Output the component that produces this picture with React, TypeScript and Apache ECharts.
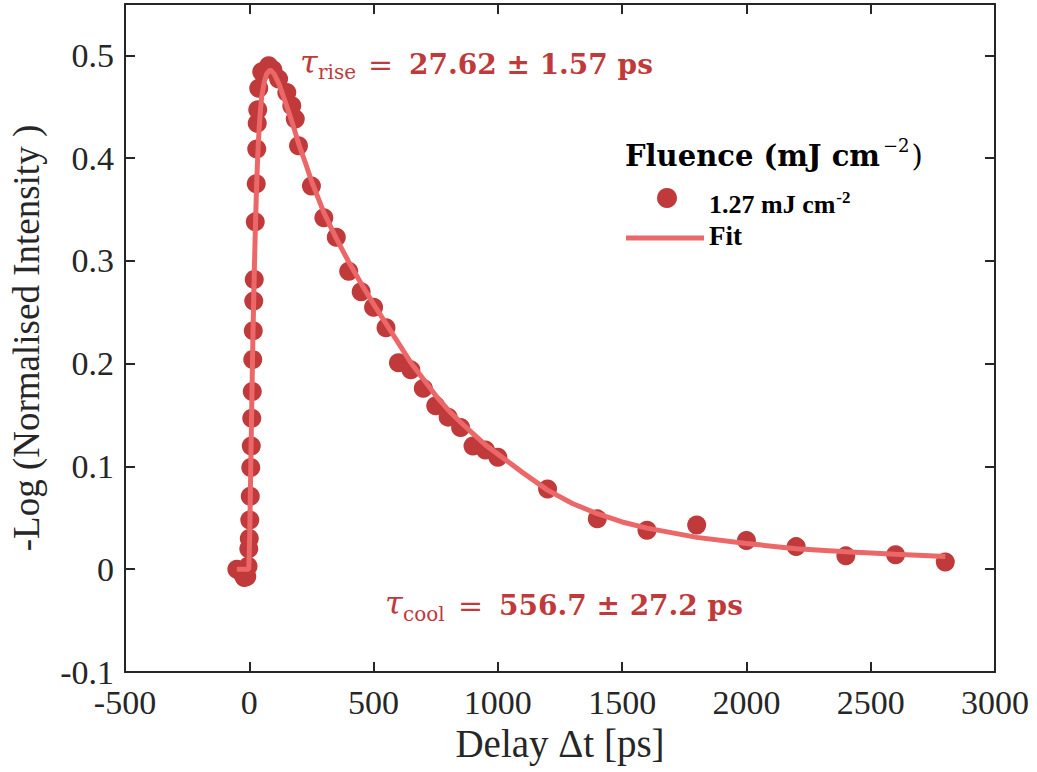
import React, { useEffect, useRef } from "react";
import * as echarts from "echarts";

// Measured data (delay in ps, -log normalised intensity)
const delays = [
  -50, -30, -20, -10, -5, -2, 0, 2, 4, 6, 8, 10, 12, 14, 16, 18, 20, 24, 28, 30, 32, 34, 38, 50, 78, 95,
  118, 151, 171, 185, 198, 250, 300, 350, 400, 450, 500, 550, 600, 650, 700, 750, 800, 850, 900, 950, 1000,
  1200, 1400, 1600, 1800, 2000, 2200, 2400, 2600, 2800,
];
const signal = [
  0.0, -0.004, -0.008, -0.007, 0.003, 0.02, 0.03, 0.048, 0.071, 0.099, 0.12, 0.147, 0.173, 0.204, 0.232,
  0.261, 0.282, 0.338, 0.375, 0.409, 0.434, 0.447, 0.468, 0.484, 0.49, 0.486,
  0.477, 0.464, 0.451, 0.438, 0.412, 0.373, 0.342, 0.323, 0.29, 0.27, 0.255, 0.235, 0.201, 0.194, 0.176,
  0.159, 0.148, 0.138, 0.12, 0.116, 0.109,
  0.078, 0.049, 0.038, 0.043, 0.028, 0.022, 0.013, 0.014, 0.007,
];

// Fit curve
const fitDelays = [
  -50, -2, 0, 2, 4, 6, 8, 10, 12, 15, 18, 21, 24, 28, 32, 36, 40, 45, 50, 60, 70, 84, 100, 120, 140, 160,
  180, 200, 225, 250, 300, 350, 400, 450, 500, 550, 600, 650, 700, 750, 800, 850, 900, 950, 1000, 1100,
  1200, 1300, 1400, 1500, 1600, 1800, 2000, 2200, 2400, 2600, 2800,
];
const fitValues = [
  0, 0, 0, 0.035, 0.07, 0.1, 0.13, 0.16, 0.19, 0.23, 0.265, 0.298, 0.327, 0.362, 0.39, 0.413, 0.43, 0.447,
  0.46, 0.474, 0.482, 0.486, 0.482, 0.472, 0.458, 0.444, 0.429, 0.413, 0.396, 0.378, 0.347, 0.322, 0.299,
  0.278, 0.258, 0.239, 0.22, 0.201, 0.185, 0.169, 0.155, 0.143, 0.132, 0.121, 0.112, 0.094, 0.077, 0.064,
  0.054, 0.046, 0.04, 0.031, 0.025, 0.02, 0.017, 0.0145, 0.0125,
];

const seriesNames = ["1.27 mJ cm-2", "Fit"];
const riseText = "27.62 ± 1.57 ps";
const coolText = "556.7 ± 27.2 ps";

const AX = "#262626";
const RED = "#c0393b";
const FITC = "#ec6868";
const SERIF = "Liberation Serif";
const CM = "DejaVu Serif";

export default function App() {
  const ref = useRef<HTMLDivElement>(null);
  useEffect(() => {
    if (!ref.current) return;
    const chart = echarts.init(ref.current, undefined, { renderer: "svg" });
    const axisCommon = {
      axisLine: { show: true, onZero: false, lineStyle: { color: AX, width: 2 } },
      axisTick: { show: true, inside: true, length: 10, lineStyle: { color: AX, width: 2 } },
      splitLine: { show: false },
    };
    const yFmt = (v: number) => (Math.abs(v - 0.55) < 1e-9 ? "" : String(parseFloat(v.toFixed(1))));
    const xFmt = (v: number) => String(Math.round(v));
    chart.setOption({
      animation: false,
      backgroundColor: "#ffffff",
      grid: { left: 123, right: 42, top: 4, bottom: 100, containLabel: false },
      xAxis: [
        {
          type: "value", min: -500, max: 3000, interval: 500, position: "bottom",
          ...axisCommon,
          axisLabel: { color: AX, fontSize: 34, fontFamily: SERIF, margin: 13, formatter: xFmt },
          name: "Delay Δt [ps]", nameLocation: "middle", nameGap: 50,
          nameTextStyle: { color: AX, fontSize: 39, fontFamily: SERIF },
        },
        {
          type: "value", min: -500, max: 3000, interval: 500, position: "top",
          ...axisCommon, axisLabel: { show: false },
        },
      ],
      yAxis: [
        {
          type: "value", min: -0.1, max: 0.55, interval: 0.1, position: "left",
          ...axisCommon,
          axisLabel: { color: AX, fontSize: 34, fontFamily: SERIF, margin: 11, formatter: yFmt },
          name: "-Log (Normalised Intensity )", nameLocation: "middle", nameGap: 80, nameRotate: 90,
          nameTextStyle: { color: AX, fontSize: 37, fontFamily: SERIF },
        },
        {
          type: "value", min: -0.1, max: 0.55, interval: 0.1, position: "right",
          ...axisCommon, axisLabel: { show: false },
        },
      ],
      series: [
        {
          name: seriesNames[0], type: "scatter", symbol: "circle", symbolSize: 19,
          itemStyle: { color: RED, opacity: 1 },
          data: delays.map((d, i) => [d, signal[i]]), z: 2,
        },
        {
          name: seriesNames[1], type: "line", showSymbol: false, symbol: "none",
          lineStyle: { color: FITC, width: 5 },
          data: fitDelays.map((d, i) => [d, fitValues[i]]), z: 3,
        },
      ],
      graphic: [
        // rise annotation
        { type: "text", x: 300, y: 62, style: { text: "τ", font: `italic 32px "${CM}"`, fill: RED, verticalAlign: "middle" } },
        { type: "text", x: 318, y: 72, style: { text: "rise", font: `20px "${CM}"`, fill: RED, verticalAlign: "middle" } },
        { type: "text", x: 368, y: 64, style: { text: "=", font: `30px "${CM}"`, fill: RED, verticalAlign: "middle" } },
        { type: "text", x: 409, y: 64, style: { text: riseText, font: `bold 28px "${CM}"`, fill: RED, verticalAlign: "middle" } },
        // cool annotation
        { type: "text", x: 385, y: 603, style: { text: "τ", font: `italic 32px "${CM}"`, fill: RED, verticalAlign: "middle" } },
        { type: "text", x: 403, y: 614, style: { text: "cool", font: `20px "${CM}"`, fill: RED, verticalAlign: "middle" } },
        { type: "text", x: 458, y: 605, style: { text: "=", font: `30px "${CM}"`, fill: RED, verticalAlign: "middle" } },
        { type: "text", x: 499, y: 605, style: { text: coolText, font: `bold 28px "${CM}"`, fill: RED, verticalAlign: "middle" } },
        // legend
        {
          type: "text", x: 625, y: 136,
          style: {
            text: "{a|Fluence (mJ cm}{b|−2}{c|)}",
            fill: "#000",
            rich: {
              a: { font: `bold 29px "${CM}"`, lineHeight: 34, verticalAlign: "bottom", fill: "#000" },
              b: { font: `18px "${CM}"`, lineHeight: 18, verticalAlign: "top", fill: "#000", padding: [0, 2, 0, 3] },
              c: { font: `29px "${CM}"`, lineHeight: 34, verticalAlign: "bottom", fill: "#000" },
            },
          },
        },
        { type: "circle", shape: { cx: 667, cy: 198, r: 10 }, style: { fill: RED } },
        {
          type: "text", x: 709, y: 189,
          style: {
            text: "{a|1.27 mJ cm}{b|-2}",
            fill: "#000",
            rich: {
              a: { font: `bold 26px "${SERIF}"`, lineHeight: 28, verticalAlign: "bottom", fill: "#000" },
              b: { font: `bold 17px "${SERIF}"`, lineHeight: 18, verticalAlign: "top", fill: "#000", padding: [0, 0, 0, 1] },
            },
          },
        },
        { type: "line", shape: { x1: 626, y1: 238, x2: 704, y2: 238 }, style: { stroke: FITC, lineWidth: 5 } },
        { type: "text", x: 709, y: 236, style: { text: "Fit", font: `bold 27px "${SERIF}"`, fill: "#000", verticalAlign: "middle" } },
      ],
    });
    return () => chart.dispose();
  }, []);
  return <div ref={ref} style={{ position: "absolute", left: 0, top: 0, width: 1037, height: 772 }} />;
}
